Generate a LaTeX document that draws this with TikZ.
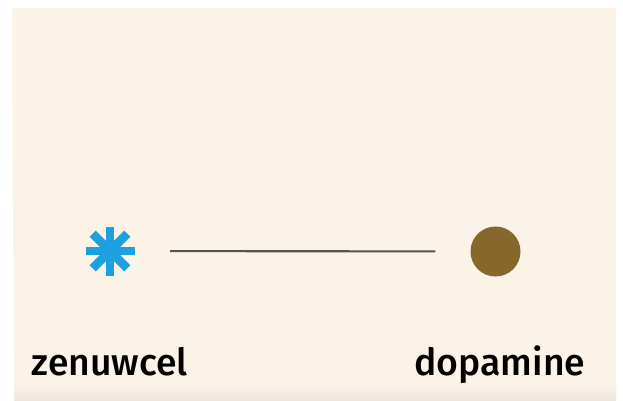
\documentclass[tikz,border=0pt]{standalone}
\usepackage{fontspec}
\setmainfont{Fira Sans}
\newfontfamily\lblfont{Fira Sans Medium}
\usetikzlibrary{positioning}

\definecolor{paper}{RGB}{251,242,232}
\definecolor{celblue}{RGB}{29,161,222}
\definecolor{dopabrown}{RGB}{135,104,44}
\definecolor{linkgrey}{RGB}{85,82,80}

\tikzset{every picture/.style={line width=0.75pt}}
\tikzset{
  arm/.style={celblue, line width=6.5pt},
  link/.style={linkgrey, line width=1.6pt, shorten <=26pt, shorten >=26pt},
  lbl/.style={anchor=base west, inner sep=0pt, font=\lblfont\fontsize{28}{32}\selectfont}
}

\begin{document}
\begin{tikzpicture}[x=0.75pt,y=0.75pt,yscale=-1,xscale=1]

\useasboundingbox (0,0) rectangle (623,400);
\fill [white] (0,0) rectangle (623,400);
\fill [paper] (12,8) -- (616,8) -- (616,400) -- (14,400) -- cycle ;
\shade [top color=paper, bottom color={rgb,255:red,238;green,230;blue,220}] (14,384) rectangle (616,400);

\node (cel) [circle, minimum size=50*0.75pt, inner sep=0pt] at (110,251) {};
\node (dopa) [circle, fill=dopabrown, minimum size=50*0.75pt, inner sep=0pt] at (495.5,251.5) {};

% asterisk arms
\foreach \a in {0,45,90,135}
  \draw [arm] (cel.center) ++(\a:-24.5) -- ++(\a:49) ;

\draw [link] (cel) -- (dopa) ;

\node (celtxt) [lbl] at (31,375) {zenuwcel};
\node (dopatxt) [lbl] at (414,375) {dopamine};

\end{tikzpicture}
\end{document}
